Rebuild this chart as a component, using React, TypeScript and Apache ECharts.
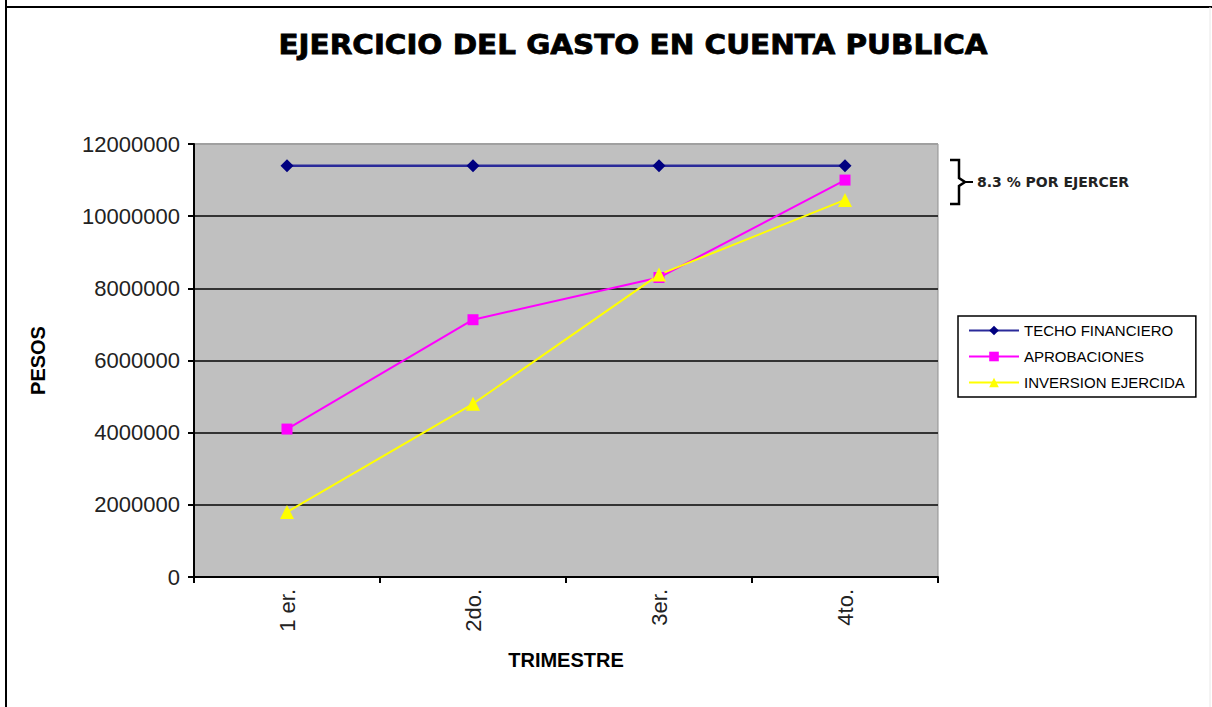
import React, { useEffect, useRef } from "react";
import * as echarts from "echarts";

const categories = ["1 er.", "2do.", "3er.", "4to."];
const techoFinanciero = [11400000, 11400000, 11400000, 11400000];
const aprobaciones = [4100000, 7130000, 8300000, 11000000];
const inversionEjercida = [1800000, 4800000, 8380000, 10450000];
const yTicks = { min: 0, max: 12000000, interval: 2000000 };
const titleText = "EJERCICIO DEL GASTO EN CUENTA PUBLICA";
const annotationText = "8.3 % POR EJERCER";

export default function App() {
  const ref = useRef<HTMLDivElement>(null);
  useEffect(() => {
    if (!ref.current) return;
    const chart = echarts.init(ref.current, null, { renderer: "svg" });
    const axisFont = { fontFamily: "Liberation Sans, Arial, sans-serif", fontSize: 22, color: "#222" };
    chart.setOption({
      animation: false,
      backgroundColor: "#ffffff",
      grid: {
        left: 194,
        right: 274,
        top: 144,
        bottom: 130,
        show: true,
        backgroundColor: "#c0c0c0",
        borderColor: "#909090",
        borderWidth: 1,
      },
      legend: {
        orient: "vertical",
        left: 958,
        top: 316,
        padding: [7, 11, 7, 10],
        itemGap: 11,
        itemWidth: 50,
        itemHeight: 12,
        borderColor: "#000",
        borderWidth: 1.5,
        backgroundColor: "#fff",
        textStyle: { fontFamily: "Liberation Sans, Arial, sans-serif", fontSize: 15, color: "#000" },
        data: ["TECHO FINANCIERO", "APROBACIONES", "INVERSION EJERCIDA"],
      },
      xAxis: {
        type: "category",
        data: categories,
        boundaryGap: true,
        name: "TRIMESTRE",
        nameLocation: "middle",
        nameGap: 73,
        nameTextStyle: { fontFamily: "Liberation Sans, Arial, sans-serif", fontSize: 20, fontWeight: "bold", color: "#000" },
        axisLine: { lineStyle: { color: "#000", width: 2 } },
        axisTick: { show: true, length: 6, lineStyle: { color: "#000", width: 2 } },
        axisLabel: { ...axisFont, rotate: 90, margin: 12 },
        splitLine: { show: false },
      },
      yAxis: {
        type: "value",
        min: yTicks.min,
        max: yTicks.max,
        interval: yTicks.interval,
        name: "PESOS",
        nameLocation: "middle",
        nameGap: 146,
        nameRotate: 90,
        nameTextStyle: { fontFamily: "Liberation Sans, Arial, sans-serif", fontSize: 20, fontWeight: "bold", color: "#000" },
        axisLine: { show: true, lineStyle: { color: "#000", width: 2 } },
        axisTick: { show: true, length: 6, lineStyle: { color: "#000", width: 2 } },
        axisLabel: { ...axisFont, margin: 14, formatter: (v: number) => String(v) },
        splitLine: {
          show: true,
          lineStyle: { color: ["#000", "#333", "#333", "#333", "#333", "#333", "#a0a0a0"], width: 2 },
        },
      },
      series: [
        {
          name: "TECHO FINANCIERO",
          type: "line",
          data: techoFinanciero,
          color: "#000080",
          symbol: "diamond",
          symbolSize: 13,
          lineStyle: { color: "#2a2a9a", width: 2.5 },
          itemStyle: { color: "#000080" },
        },
        {
          name: "APROBACIONES",
          type: "line",
          data: aprobaciones,
          color: "#ff00ff",
          symbol: "rect",
          symbolSize: 11,
          lineStyle: { color: "#ff00ff", width: 2 },
          itemStyle: { color: "#ff00ff" },
        },
        {
          name: "INVERSION EJERCIDA",
          type: "line",
          data: inversionEjercida,
          color: "#ffff00",
          symbol: "triangle",
          symbolSize: 14,
          lineStyle: { color: "#ffff00", width: 2 },
          itemStyle: { color: "#ffff00" },
        },
      ],
      graphic: [
        { type: "line", shape: { x1: 6, y1: 0, x2: 6, y2: 707 }, style: { stroke: "#000", lineWidth: 2 } },
        { type: "line", shape: { x1: 6, y1: 7, x2: 1212, y2: 7 }, style: { stroke: "#000", lineWidth: 2 } },
        { type: "line", shape: { x1: 1210, y1: 7, x2: 1210, y2: 707 }, style: { stroke: "#e8e8e8", lineWidth: 1 } },
        {
          type: "text",
          x: 633,
          y: 45,
          scaleX: 1.09,
          style: {
            text: titleText,
            fontFamily: "DejaVu Sans, sans-serif",
            fontSize: 27,
            fontWeight: 900,
            fill: "#000",
            stroke: "#000",
            lineWidth: 0.8,
            align: "center",
            verticalAlign: "middle",
          },
        },
        {
          type: "polyline",
          shape: { points: [[950, 160], [959, 160], [959, 178], [965, 182], [959, 186], [959, 204], [950, 204]] },
          style: { stroke: "#000", lineWidth: 2.5, fill: null },
        },
        { type: "line", shape: { x1: 965, y1: 182, x2: 973, y2: 182 }, style: { stroke: "#000", lineWidth: 2 } },
        {
          type: "text",
          x: 977,
          y: 182,
          style: {
            text: annotationText,
            fontFamily: "DejaVu Sans, sans-serif",
            fontSize: 14,
            fontWeight: "bold",
            fill: "#222",
            align: "left",
            verticalAlign: "middle",
          },
        },
      ],
    });
    return () => chart.dispose();
  }, []);
  return <div ref={ref} style={{ position: "fixed", left: 0, top: 0, width: 1212, height: 707 }} />;
}
